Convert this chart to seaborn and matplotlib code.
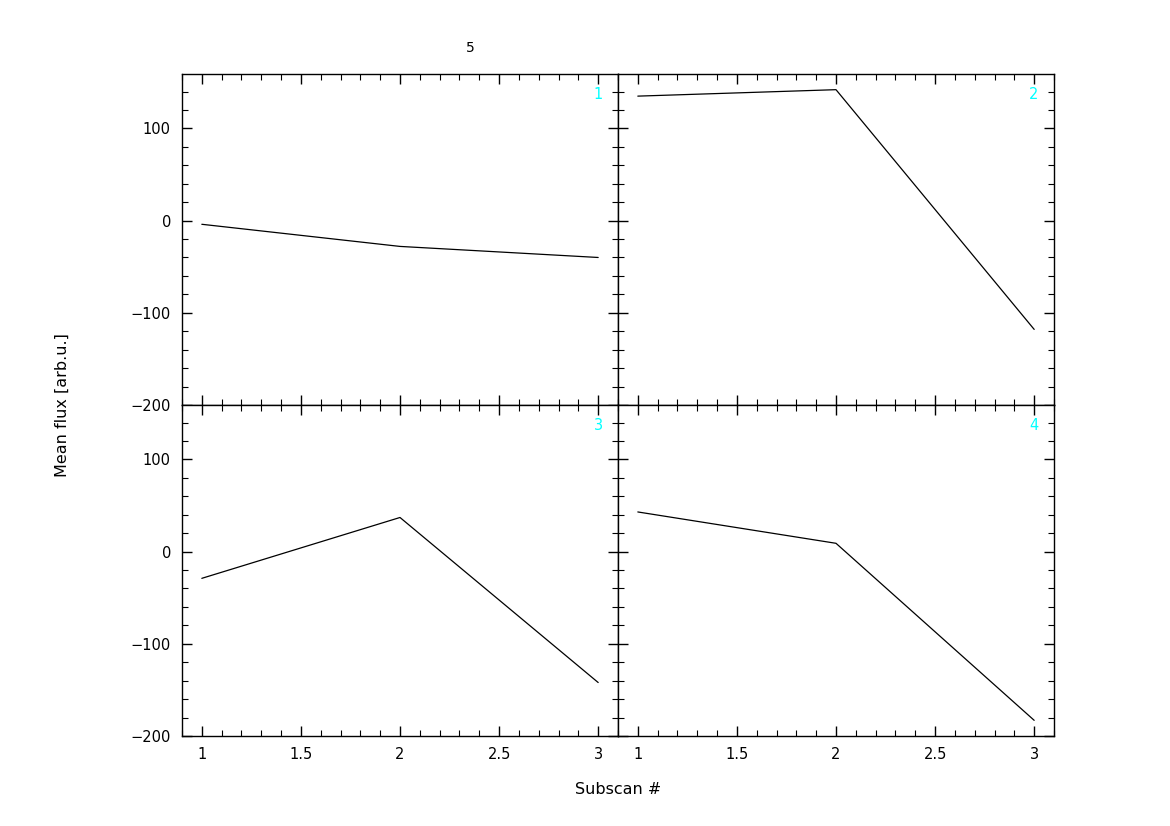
import matplotlib
matplotlib.use("Agg")
import matplotlib.pyplot as plt
from matplotlib.ticker import MultipleLocator, FormatStrFormatter
import seaborn as sns
import pandas as pd

subscans = [1, 2, 3]
panel_ids = ["1", "2", "3", "4"]
flux_1 = [-4, -28, -40]
flux_2 = [135, 142, -118]
flux_3 = [-29, 37, -142]
flux_4 = [43, 9, -183]
series = [flux_1, flux_2, flux_3, flux_4]
title = "5"
xlabel = "Subscan #"
ylabel = "Mean flux [arb.u.]"

sns.set_theme(style="white")
plt.rcParams['font.family'] = ['DejaVu Sans']

fig = plt.figure(figsize=(11.7, 8.26), dpi=100)
gs = fig.add_gridspec(2, 2, left=182/1170, right=1054/1170, top=1-74/826, bottom=1-736/826,
                      hspace=0, wspace=0)
axes = [fig.add_subplot(gs[i // 2, i % 2]) for i in range(4)]

for i, ax in enumerate(axes):
    df = pd.DataFrame({"x": subscans, "y": series[i]})
    sns.lineplot(data=df, x="x", y="y", ax=ax, color="black", linewidth=0.9)
    ax.set_xlim(0.9, 3.1)
    ax.set_ylim(-200, 159)
    ax.xaxis.set_major_locator(MultipleLocator(0.5))
    ax.xaxis.set_minor_locator(MultipleLocator(0.1))
    ax.xaxis.set_major_formatter(FormatStrFormatter("%g"))
    ax.yaxis.set_major_locator(MultipleLocator(100))
    ax.yaxis.set_minor_locator(MultipleLocator(20))
    ax.tick_params(which="both", direction="in", top=True, right=True, bottom=True, left=True,
                   color="black", labelsize=10.5, labelcolor="black")
    ax.tick_params(which="major", length=7, width=1, pad=8)
    ax.tick_params(which="minor", length=4, width=0.8)
    ax.set_xlabel("")
    ax.set_ylabel("")
    for s in ax.spines.values():
        s.set_color("black")
        s.set_linewidth(1)
    if i % 2 == 1:
        ax.tick_params(labelleft=False)
    if i < 2:
        ax.tick_params(labelbottom=False)
    ax.text(0.965, 0.96, panel_ids[i], transform=ax.transAxes, ha="right", va="top",
            color="#00ffff", fontsize=10.5)
    ax.grid(False)

fig.text(470/1170, 1-48/826, title, ha="center", va="center", fontsize=10, color="black")
fig.text(618/1170, 1-790/826, xlabel, ha="center", va="center", fontsize=11.5, color="black")
fig.text(62/1170, 1-405/826, ylabel, ha="center", va="center", rotation=90, fontsize=11.5,
         color="black")

fig.savefig("out.png", dpi=100, facecolor="white")
